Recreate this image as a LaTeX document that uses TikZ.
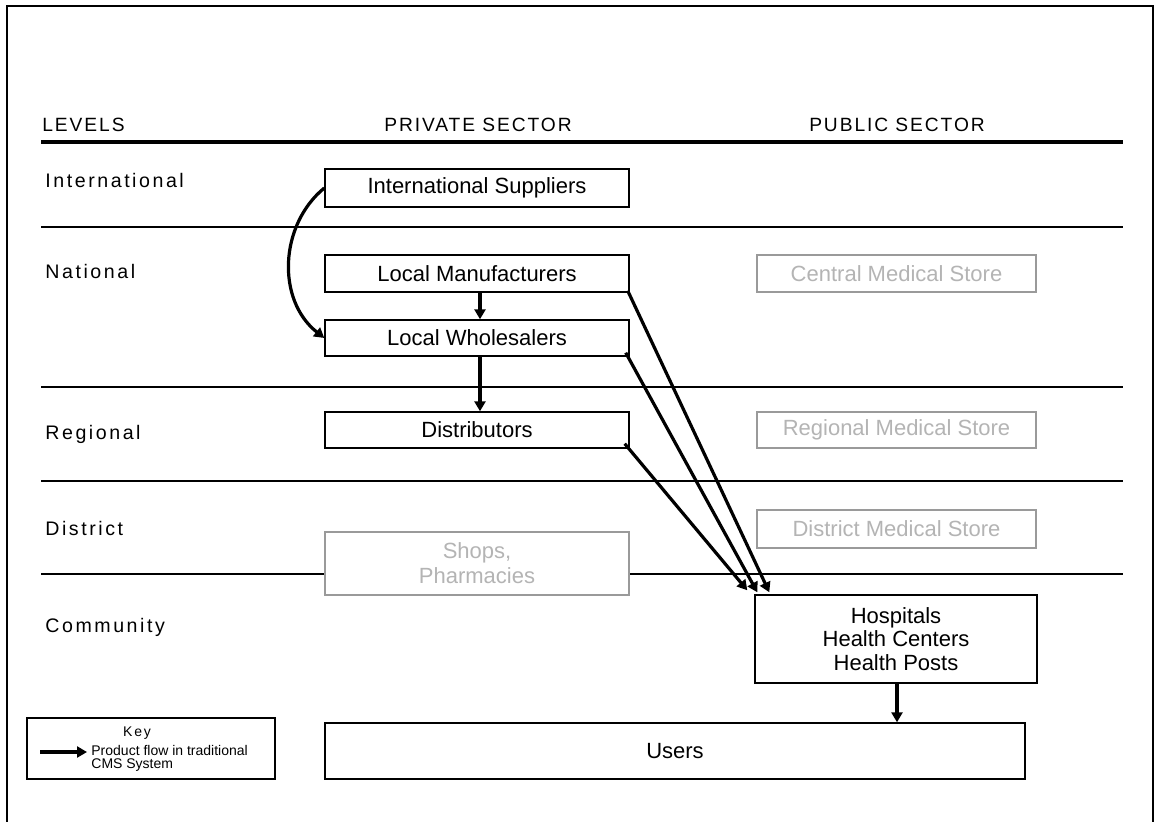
\documentclass[tikz,border=0pt]{standalone}
\usepackage{fontspec}
\setmainfont{Liberation Sans}
\newfontfamily\levelfont[LetterSpace=13]{Liberation Sans}
\newfontfamily\headfont[LetterSpace=10]{Liberation Sans}
\usetikzlibrary{arrows.meta}
\definecolor{storegray}{HTML}{B4B4B4}
\definecolor{storeedge}{HTML}{9A9A9A}
\begin{document}
\begin{tikzpicture}[x=0.5pt,y=-0.5pt,
    box/.style={draw,line width=0.7pt,fill=white,minimum width=152pt,minimum height=18.5pt,inner sep=0pt,font=\fontsize{11}{12}\selectfont,align=center},
    store/.style={box,draw=storeedge,text=storegray,minimum width=139.5pt},
    flow/.style={line width=1.6pt,-{Triangle[length=5pt,width=5.5pt]}},
    level/.style={anchor=west,inner sep=0pt,font=\levelfont\fontsize{9.8}{12}\selectfont},
    header/.style={inner sep=0pt,font=\headfont\fontsize{9.6}{11}\selectfont}]
    \useasboundingbox (0,0) rectangle (1160,822);
    \draw[line width=1.1pt] (7,6) rectangle (1153,860);
    % Headers
    \node[header,anchor=west] (levels) at (42,125) {LEVELS};
    \node[header] (private) at (478,125) {PRIVATE SECTOR};
    \node[header] (public) at (897,125) {PUBLIC SECTOR};
    \draw[line width=1.6pt] (41,142) -- (1123,142);
    \foreach \y in {227,387,481,574} {\draw[line width=0.7pt] (41,\y) -- (1123,\y);}
    % Levels
    \foreach \y/\lab/\name in {181/International/intl,271/National/natl,434/Regional/regl,528/District/dist,627/Community/comm}
        {\node[level] (\name) at (45,\y) {\lab};}
    % Private sector
    \node[box,minimum height=19pt] (isup) at (477,188) {International Suppliers};
    \node[box] (lman) at (477,273.5) {Local Manufacturers};
    \node[box,minimum height=18pt] (lwhol) at (477,338) {Local Wholesalers};
    \node[box,minimum height=18pt] (distr) at (477,430) {Distributors};
    \node[store,minimum width=152pt,minimum height=31.5pt,font=\fontsize{11}{12.5}\selectfont] (shops) at (477,563.5) {Shops,\\Pharmacies};
    % Public sector
    \node[store] (cms) at (896.5,273.5) {Central Medical Store};
    \node[store,minimum height=18pt] (rms) at (896.5,430) {Regional Medical Store};
    \node[store,minimum height=19pt] (dms) at (896.5,529) {District Medical Store};
    \node[box,minimum width=141pt,minimum height=44pt,font=\fontsize{11}{11.75}\selectfont] (hosp) at (896,639) {Hospitals\\Health Centers\\Health Posts};
    \node[box,minimum width=350pt,minimum height=28pt] (users) at (675,751) {Users};
    % Flows
    \draw[flow] (isup.west) .. controls +(-45,37) and +(-48,-38) .. (lwhol.west);
    \draw[flow] ([xshift=1.5pt]lman.south) -- ([xshift=1.5pt]lwhol.north);
    \draw[flow] ([xshift=1.5pt]lwhol.south) -- ([xshift=1.5pt]distr.north);
    \draw[flow] ([xshift=-1pt,yshift=1pt]lman.south east) -- ([xshift=7.5pt,yshift=1pt]hosp.north west);
    \draw[flow] ([xshift=-2pt,yshift=2pt]lwhol.south east) -- ([xshift=1.5pt,yshift=1pt]hosp.north west);
    \draw[flow] ([xshift=-2.5pt,yshift=2.5pt]distr.south east) -- ([xshift=-3.5pt,yshift=2pt]hosp.north west);
    \draw[flow] ([xshift=0.5pt]hosp.south) -- ([xshift=0.5pt]hosp.south |- users.north);
    % Key
    \node[box,minimum width=124pt,minimum height=30.5pt] (key) at (151,748.5) {};
    \node[inner sep=0pt,font=\levelfont\fontsize{7}{8}\selectfont] (keytitle) at (137,733) {Key};
    \coordinate (keyarrow) at (40,752);
    \node[anchor=west,inner sep=0pt,align=left,font=\fontsize{7}{6.5}\selectfont] (keytext) at (91,758.5) {Product flow in traditional\\CMS System};
    \draw[flow] (keyarrow) -- ([xshift=-2pt]keyarrow -| keytext.west);
\end{tikzpicture}
\end{document}
